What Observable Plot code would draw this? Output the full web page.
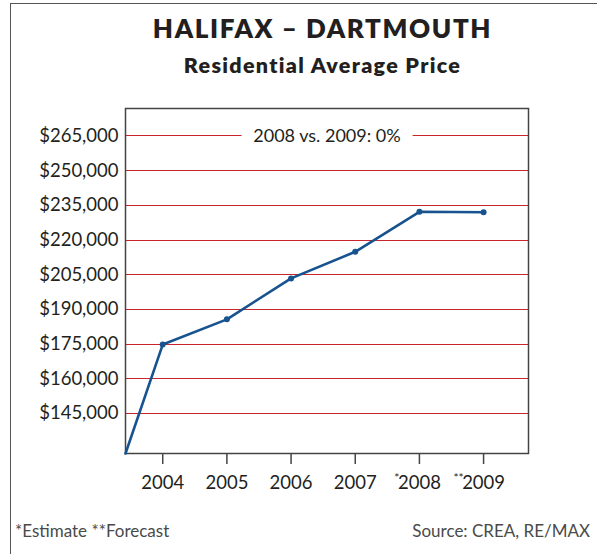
<!DOCTYPE html>
<html>
<head>
<meta charset="utf-8">
<script src="https://cdn.jsdelivr.net/npm/d3@7"></script>
<script src="https://cdn.jsdelivr.net/npm/@observablehq/plot@0.6"></script>
<style>
  html, body { margin: 0; padding: 0; background: #fff; }
  #wrap { position: relative; width: 597px; height: 554px; overflow: hidden; font-family: Lato, "Open Sans", sans-serif; color: #231f20; }
  #border { position: absolute; left: 10px; top: 3px; width: 700px; height: 700px; border-left: 1.5px solid #555; border-top: 1.5px solid #555; }
  #title { position: absolute; left: 0; width: 645px; top: 13px; text-align: center; font-weight: 800; font-size: 26px; line-height: 30px; letter-spacing: 1.6px; }
  #subtitle { position: absolute; left: 0; width: 645px; top: 52px; text-align: center; font-weight: 800; font-size: 21.5px; line-height: 26px; letter-spacing: 1.3px; }
  #chart { position: absolute; left: 0; top: 0; }
  .foot { position: absolute; top: 521px; font-size: 17px; line-height: 20px; color: #4a4a4a; }
  #note { left: 15px; }
  #source { right: 7px; }
</style>
</head>
<body>
<div id="wrap">
  <div id="border"></div>
  <div id="chart"></div>
  <div id="title">HALIFAX – DARTMOUTH</div>
  <div id="subtitle">Residential Average Price</div>
  <div class="foot" id="note">*Estimate **Forecast</div>
  <div class="foot" id="source">Source: CREA, RE/MAX</div>
</div>
<script>
const years = [2004, 2005, 2006, 2007, 2008, 2009];
const prices = [174800, 185700, 203400, 214900, 232200, 232000];
const yearMarks = ["", "", "", "", "*", "**"];
const priceTicks = [145000, 160000, 175000, 190000, 205000, 220000, 235000, 250000, 265000];
const xDomain = [2003.42, 2009.70];
const yDomain = [127700, 276850];
const annotation = "2008 vs. 2009: 0%";

const lineColor = "#17538f";
const gridColor = "#c8262e";

const data = years.map((year, i) => ({year, price: prices[i], mark: yearMarks[i]}));
const lineData = [{year: xDomain[0], price: yDomain[0]}, ...data];

const chart = Plot.plot({
  width: 597,
  height: 554,
  marginTop: 108,
  marginLeft: 125,
  marginRight: 69,
  marginBottom: 101,
  style: {fontFamily: "Lato, 'Open Sans', sans-serif", color: "#231f20", background: "transparent"},
  x: {domain: xDomain, label: null},
  y: {domain: yDomain, label: null},
  marks: [
    Plot.ruleY(priceTicks, {y: d => d, stroke: gridColor, strokeWidth: 1, shapeRendering: "crispEdges"}),
    Plot.text([annotation], {
      text: d => d,
      y: () => priceTicks[priceTicks.length - 1],
      frameAnchor: "middle",
      fontSize: 18,
      fill: "#231f20",
      stroke: "white",
      strokeWidth: 26,
      strokeLinejoin: "round"
    }),
    Plot.axisY(priceTicks, {
      tickSize: 0,
      tickPadding: 7,
      fontSize: 18.5,
      tickFormat: d => "$" + d3.format(",")(d),
      label: null
    }),
    Plot.axisX(years, {
      tickSize: 11,
      tickPadding: 11,
      fontSize: 18.5,
      stroke: "#444",
      strokeWidth: 1.5,
      tickFormat: d => String(d),
      label: null
    }),
    Plot.text(data.filter(d => d.mark), {
      x: "year",
      text: "mark",
      frameAnchor: "bottom",
      textAnchor: "end",
      lineAnchor: "top",
      dx: -20,
      dy: 20,
      fontSize: 12,
      fill: "#231f20"
    }),
    Plot.frame({stroke: "#444", strokeWidth: 1.5}),
    Plot.line(lineData, {x: "year", y: "price", stroke: lineColor, strokeWidth: 2.6}),
    Plot.dot(data, {x: "year", y: "price", r: 3, fill: lineColor})
  ]
});
document.getElementById("chart").appendChild(chart);
</script>
</body>
</html>
